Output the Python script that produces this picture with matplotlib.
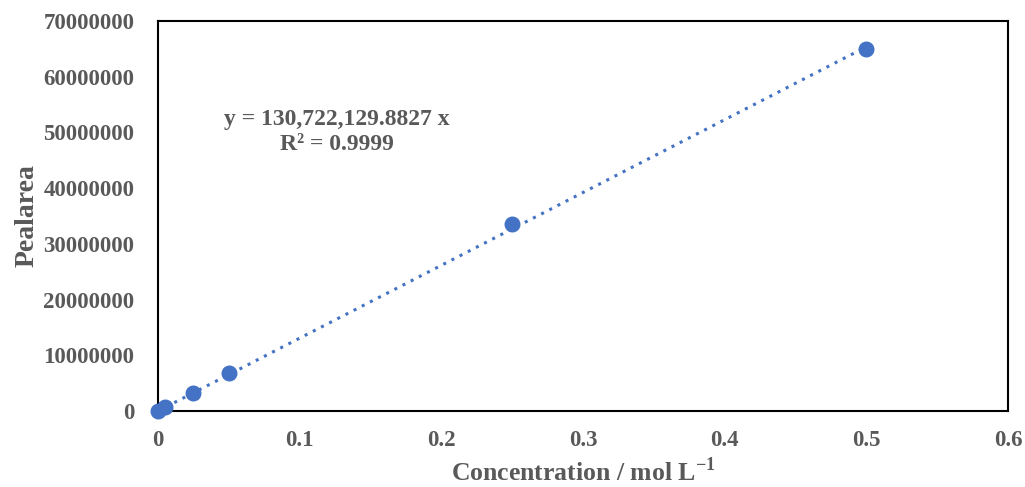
import matplotlib
matplotlib.use("Agg")
import matplotlib.pyplot as plt
import numpy as np

conc = [0.0, 0.005, 0.025, 0.05, 0.25, 0.5]
area = [0, 650000, 3300000, 6800000, 33500000, 65000000]
slope = 130722129.8827
x_ticks = [0, 0.1, 0.2, 0.3, 0.4, 0.5, 0.6]
x_tick_labels = ["0", "0.1", "0.2", "0.3", "0.4", "0.5", "0.6"]
y_ticks = [0, 10000000, 20000000, 30000000, 40000000, 50000000, 60000000, 70000000]
y_tick_labels = [str(v) for v in y_ticks]

plt.rcParams['font.family'] = ['Liberation Serif', 'DejaVu Serif']
plt.rcParams['mathtext.fontset'] = 'custom'
plt.rcParams['mathtext.rm'] = 'Liberation Serif:bold'
plt.rcParams['mathtext.bf'] = 'Liberation Serif:bold'
gray = '#595959'
blue = '#4472C4'

fig = plt.figure(figsize=(10.25, 4.87), dpi=100)
ax = fig.add_axes([158/1025, 1 - 411/487, 850/1025, 390/487])

fit_x = np.array([0.0, max(conc)])
ax.plot(fit_x, slope * fit_x, linestyle=(0, (1, 2)), color=blue, linewidth=2.2, zorder=2)
ax.plot(conc, area, 'o', color=blue, markersize=10.5, zorder=3, clip_on=False)

ax.set_xlim(0, 0.6)
ax.set_ylim(0, 70000000)
ax.set_xticks(x_ticks)
ax.set_xticklabels(x_tick_labels)
ax.set_yticks(y_ticks)
ax.set_yticklabels(y_tick_labels)
ax.tick_params(axis='both', length=0, labelsize=16.5, labelcolor=gray)
ax.tick_params(axis='y', pad=17)
ax.tick_params(axis='x', pad=14)
for lab in ax.get_xticklabels() + ax.get_yticklabels():
    lab.set_fontweight('bold')
for s in ax.spines.values():
    s.set_color('black')
    s.set_linewidth(1.5)

ax.set_xlabel('Concentration / mol L$^{\\mathbf{-1}}$', fontsize=18.5, fontweight='bold', color=gray, labelpad=4)
ax.set_ylabel('Pealarea', fontsize=20, fontweight='bold', color=gray, labelpad=3)

ax.text(337/1025, 1 - 120/487, 'y = 130,722,129.8827 x', transform=fig.transFigure,
        ha='center', va='center', fontsize=17, fontweight='bold', color=gray)
ax.text(337/1025, 1 - 145/487, 'R² = 0.9999', transform=fig.transFigure,
        ha='center', va='center', fontsize=17, fontweight='bold', color=gray)

fig.savefig('out.png', dpi=100)
